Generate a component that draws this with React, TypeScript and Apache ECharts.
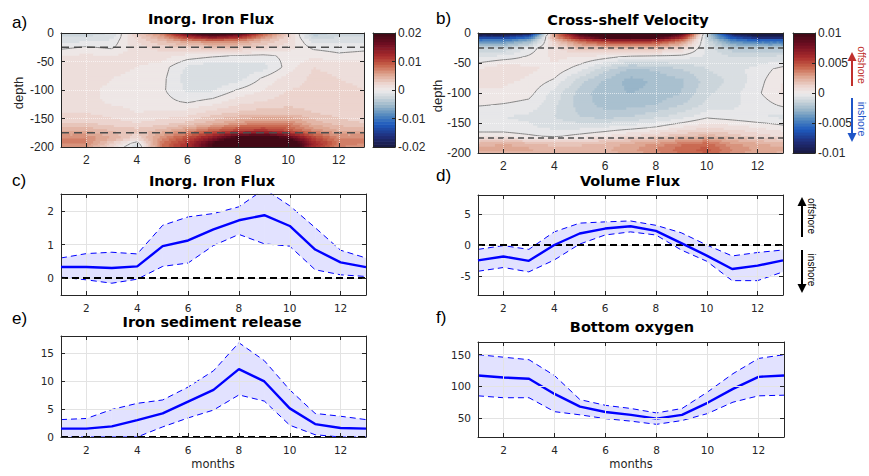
import React, { useEffect, useRef } from 'react';
import * as echarts from 'echarts';

// ---------- data ----------
const months = [1, 2, 3, 4, 5, 6, 7, 8, 9, 10, 11, 12, 13];
const monthTicks = [2, 4, 6, 8, 10, 12];
const depthLevels = [0, -6, -14, -25, -40, -60, -80, -100, -120, -140, -158, -172, -185, -194, -200];

// a) Inorg. Iron Flux field (x 1e-3), rows = depthLevels, columns = months
const ironFluxField = [
  [-2.5, -2.5, -2, 3, 8, 18, 25, 20, 10, 3, -4, -2.5, -2.5],
  [-2, -2, -1.5, 2.5, 6, 13, 17, 14, 7, 2.5, -3, -2, -2],
  [-1.2, -1.2, -0.8, 2, 4, 6, 7, 6.5, 4, 2, -1.5, -1.3, -1.3],
  [-0.3, 0.1, -0.2, 1.5, 2.5, 3.2, 3.5, 3.5, 2.5, 1.5, -0.3, -0.6, -0.4],
  [1, 1.2, 1, 1.5, 1.5, 0.6, 0.2, -0.1, -0.3, 0.3, 0.8, 0.3, 0.5],
  [1.8, 1.8, 1.5, 1, 0.5, -1.2, -1.8, -1.8, -1.5, 0.5, 2, 1.8, 1.5],
  [1.5, 1.5, 1, 0.6, 0.3, -1.5, -1.8, -1.5, 0.2, 1.5, 2.2, 2, 1.8],
  [1.5, 1.2, 0.8, 0.5, 0.2, -1.2, -1.2, 0.1, 1, 2, 2.2, 2.2, 2],
  [1.5, 1.3, 0.8, 0.6, 0.4, -0.2, 0.4, 1.5, 2, 2.5, 2.5, 2.2, 2],
  [2, 2, 1.5, 1, 1.2, 1.5, 2.5, 3.2, 3.6, 3.6, 3, 2.5, 2],
  [3, 3, 2.5, 2, 2.5, 3.2, 4.5, 6, 7, 7, 4.5, 3.5, 3],
  [5, 5, 4, 3.5, 4.5, 6.5, 9, 11, 12, 10, 7, 5, 5],
  [7, 7, 5, 2, 7, 10, 15, 21, 24, 19, 11, 7, 7],
  [7, 7, 3, -1, 8, 12, 19, 27, 30, 24, 13, 8, 7],
  [6, 6, 2, -2, 8, 12, 19, 27, 30, 24, 12, 7, 6],
];

// b) Cross-shelf velocity field (x 1e-3)
const velocityField = [
  [-12, -12, -10, 3, 10, 14, 15, 14, 10, -1.5, -10, -13, -13],
  [-8, -8, -6, 3, 8, 11, 12, 11, 7, -1.5, -7, -9, -9],
  [-4, -4, -2.5, 1.5, 4, 5.5, 6, 5.5, 3.5, -1, -4, -5, -5],
  [-1.5, -1.5, -0.4, 0.8, 1.8, 2, 2, 2, 1.2, -0.6, -1.8, -2, -2],
  [-0.5, -0.3, 0.1, 0.6, 0.5, 0.2, -0.2, -0.3, -0.3, -0.6, -1, -1, -0.8],
  [0.5, 1.0, 0.6, 0.4, -0.3, -1.3, -2.1, -1.9, -1.5, -1.0, -0.7, -0.3, 0.2],
  [0.6, 0.6, 0.4, -0.1, -1.3, -2.1, -2.7, -2.4, -2.1, -1.3, -0.9, -0.2, 0.5],
  [0.4, 0.4, 0.2, -0.7, -1.7, -2.4, -2.5, -2.4, -2.0, -1.1, -0.7, -0.1, 0.6],
  [0.05, -0.05, -0.2, -0.9, -1.7, -2.2, -2.2, -2.0, -1.5, -0.9, -0.6, -0.3, 0.1],
  [-0.5, -0.5, -0.6, -1.0, -1.5, -1.7, -1.5, -1.1, -0.7, -0.1, -0.3, -0.5, -0.6],
  [-0.3, -0.3, -0.4, -0.6, -0.6, -0.4, -0.2, 0.1, 0.6, 1.0, 0.8, 0.5, 0.2],
  [0.3, 0.3, 0.1, -0.1, 0.2, 0.5, 1.0, 1.4, 1.9, 2.3, 1.8, 1.3, 0.9],
  [2.2, 2.6, 2.2, 1.8, 1.9, 2.2, 2.6, 3.1, 3.9, 4.3, 3.1, 2.6, 2.2],
  [2.6, 2.6, 2.6, 2.2, 2.2, 2.4, 2.9, 3.5, 4.3, 4.7, 3.5, 2.9, 2.6],
  [2.4, 2.4, 2.4, 2.0, 2.0, 2.3, 2.6, 3.3, 4.1, 4.5, 3.3, 2.6, 2.4],
];
const FIELD_UNIT = 1e-3;
const ironFluxTicks = [-0.02, -0.01, 0, 0.01, 0.02];
const velocityTicks = [-0.01, -0.005, 0, 0.005, 0.01];
const shelfLayerDepths = [-25, -175];

// c) Inorg. Iron Flux
const ironFluxMean = [0.33, 0.33, 0.3, 0.35, 0.95, 1.12, 1.45, 1.72, 1.87, 1.55, 0.85, 0.47, 0.33];
const ironFluxUpper = [0.6, 0.73, 0.77, 0.72, 1.57, 1.82, 1.92, 2.12, 2.65, 2.15, 1.5, 0.83, 0.6];
const ironFluxLower = [0.03, -0.05, -0.15, -0.03, 0.35, 0.45, 0.97, 1.3, 1.02, 0.95, 0.25, 0.1, 0.05];

// d) Volume Flux
const volFluxMean = [-2.47, -1.84, -2.53, 0.0, 1.84, 2.63, 3.0, 2.26, 0.3, -1.7, -3.84, -3.3, -2.47];
const volFluxUpper = [-0.7, -0.1, -0.7, 2.1, 3.5, 3.7, 3.85, 3.15, 1.95, 0.0, -1.75, -1.2, -0.8];
const volFluxLower = [-4.2, -3.6, -4.3, -2.4, 0.15, 1.6, 2.1, 1.6, -0.8, -2.6, -5.7, -5.7, -4.3];

// e) Iron sediment release
const sedMean = [1.5, 1.5, 1.9, 3.0, 4.2, 6.3, 8.4, 12.1, 9.9, 5.1, 2.3, 1.6, 1.5];
const sedUpper = [3.1, 3.3, 4.9, 6.0, 6.6, 8.9, 11.8, 16.8, 13.6, 8.4, 4.2, 3.7, 3.1];
const sedLower = [0, 0, 0, 0, 1.8, 3.4, 4.8, 7.5, 6.4, 2.1, 0.4, 0, 0];

// f) Bottom oxygen
const oxyMean = [117, 114, 112, 88, 68, 59.5, 55, 49, 55, 74, 96, 115, 117];
const oxyUpper = [150, 146, 142, 117, 79, 70, 65, 58, 65, 91, 120, 144, 150];
const oxyLower = [85, 82, 82, 60, 55, 49, 45, 40, 46, 57, 75, 85, 86];

// ---------- colormap ----------
const STOPS: number[][] = [
  [0.0, 24, 24, 62],
  [0.1, 32, 46, 122],
  [0.2, 30, 90, 190],
  [0.28, 80, 135, 190],
  [0.36, 150, 180, 200],
  [0.44, 205, 214, 220],
  [0.5, 238, 236, 236],
  [0.56, 236, 214, 208],
  [0.64, 222, 165, 145],
  [0.72, 200, 100, 75],
  [0.8, 170, 45, 45],
  [0.9, 115, 15, 35],
  [1.0, 60, 8, 20],
];
function cmap(t: number) {
  for (let i = 0; i < STOPS.length - 1; i++) {
    const a = STOPS[i], b = STOPS[i + 1];
    if (t <= b[0]) {
      const f = (t - a[0]) / (b[0] - a[0]);
      const c = [1, 2, 3].map((k) => Math.round(a[k] + (b[k] - a[k]) * f));
      return `rgb(${c[0]},${c[1]},${c[2]})`;
    }
  }
  return 'rgb(60,8,20)';
}
const NLEV = 40;
const levelColors = Array.from({ length: NLEV }, (_, k) => cmap((k + 0.5) / NLEV));
function colorOf(v: number, cmax: number) {
  const t = 0.5 + v / (2 * cmax);
  let k = Math.floor(t * NLEV);
  if (k < 0) k = 0;
  if (k > NLEV - 1) k = NLEV - 1;
  return levelColors[k];
}

const AX = '#262626';
const FONT_TOP = 'Liberation Sans';
const FONT_BOT = 'DejaVu Sans';

function fieldCells(field: number[][]) {
  const out: number[][] = [];
  for (let j = 0; j < depthLevels.length - 1; j++) {
    for (let i = 0; i < months.length - 1; i++) {
      out.push([
        months[i], depthLevels[j], months[i + 1], depthLevels[j + 1],
        field[j][i] * FIELD_UNIT, field[j][i + 1] * FIELD_UNIT,
        field[j + 1][i] * FIELD_UNIT, field[j + 1][i + 1] * FIELD_UNIT,
      ]);
    }
  }
  return out;
}

function makeFieldRenderer(cmax: number) {
  return (params: any, api: any) => {
    const x0 = api.value(0), y0 = api.value(1), x1 = api.value(2), y1 = api.value(3);
    const v00 = api.value(4), v10 = api.value(5), v01 = api.value(6), v11 = api.value(7);
    const p0 = api.coord([x0, y0]);
    const p1 = api.coord([x1, y1]);
    const W = p1[0] - p0[0], H = p1[1] - p0[1];
    const nx = Math.max(1, Math.round(W / 2.2));
    const ny = Math.max(1, Math.round(H / 2.2));
    const val = (u: number, v: number) =>
      v00 * (1 - u) * (1 - v) + v10 * u * (1 - v) + v01 * (1 - u) * v + v11 * u * v;
    const children: any[] = [];
    for (let cj = 0; cj < ny; cj++) {
      const v = (cj + 0.5) / ny;
      let runStart = 0;
      let runColor = colorOf(val(0.5 / nx, v), cmax);
      for (let ci = 1; ci <= nx; ci++) {
        const col = ci < nx ? colorOf(val((ci + 0.5) / nx, v), cmax) : '';
        if (col !== runColor) {
          children.push({
            type: 'rect',
            shape: { x: p0[0] + (runStart * W) / nx, y: p0[1] + (cj * H) / ny, width: ((ci - runStart) * W) / nx + 0.8, height: H / ny + 0.8 },
            style: { fill: runColor },
          });
          runStart = ci;
          runColor = col;
        }
      }
    }
    const X = (u: number) => p0[0] + (u * W) / nx;
    const Y = (v: number) => p0[1] + (v * H) / ny;
    const node = (ci: number, cj: number) => val(ci / nx, cj / ny);
    for (let cj = 0; cj < ny; cj++) {
      for (let ci = 0; ci < nx; ci++) {
        const a = node(ci, cj), b = node(ci + 1, cj), c = node(ci + 1, cj + 1), d = node(ci, cj + 1);
        const pts: number[][] = [];
        if (a > 0 !== b > 0) { const t = a / (a - b); pts.push([X(ci + t), Y(cj)]); }
        if (b > 0 !== c > 0) { const t = b / (b - c); pts.push([X(ci + 1), Y(cj + t)]); }
        if (c > 0 !== d > 0) { const t = c / (c - d); pts.push([X(ci + 1 - t), Y(cj + 1)]); }
        if (d > 0 !== a > 0) { const t = d / (d - a); pts.push([X(ci), Y(cj + 1 - t)]); }
        for (let k = 0; k + 1 < pts.length; k += 2) {
          children.push({
            type: 'line',
            shape: { x1: pts[k][0], y1: pts[k][1], x2: pts[k + 1][0], y2: pts[k + 1][1] },
            style: { stroke: '#858585', lineWidth: 1 },
          });
        }
      }
    }
    return { type: 'group', children };
  };
}

function makeColorbarRenderer(cmax: number) {
  return (params: any, api: any) => {
    const k = api.value(0);
    const step = (2 * cmax) / NLEV;
    const lo = -cmax + k * step;
    const hi = lo + step;
    const p0 = api.coord([0, hi]);
    const p1 = api.coord([1, lo]);
    return {
      type: 'rect',
      shape: { x: p0[0], y: p0[1], width: p1[0] - p0[0], height: p1[1] - p0[1] + 0.6 },
      style: { fill: levelColors[k] },
    };
  };
}

function bandRenderer(params: any, api: any) {
  const a = api.coord([api.value(0), api.value(1)]);
  const b = api.coord([api.value(0), api.value(2)]);
  const c = api.coord([api.value(3), api.value(5)]);
  const d = api.coord([api.value(3), api.value(4)]);
  return { type: 'polygon', shape: { points: [a, b, c, d] }, style: { fill: 'rgba(0,0,255,0.115)' } };
}

export default function App() {
  const ref = useRef<HTMLDivElement>(null);
  useEffect(() => {
    document.body.style.margin = '0';
    if (!ref.current) return;
    const chart = echarts.init(ref.current, undefined, { renderer: 'svg' });

    const grids: any[] = [
      { left: 61, top: 33, width: 303, height: 114 }, // a
      { left: 478, top: 33, width: 305, height: 120 }, // b
      { left: 373, top: 33, width: 22, height: 114 }, // colorbar a
      { left: 793, top: 33, width: 22, height: 120 }, // colorbar b
      { left: 61, top: 194, width: 305, height: 101 }, // c
      { left: 478, top: 195, width: 305, height: 100 }, // d
      { left: 61, top: 336, width: 305, height: 101 }, // e
      { left: 478, top: 342, width: 306, height: 95 }, // f
    ];
    const xAxes: any[] = [];
    const yAxes: any[] = [];

    const lineAx = { show: true, onZero: false, lineStyle: { color: AX, width: 1 } };

    function addPanel(gridIndex: number, yMin: number, yMax: number, yTicks: number[], font: string, fontSize: number, gridLines: boolean) {
      const xi = xAxes.length;
      const yi = yAxes.length;
      const lbl = { fontFamily: font, fontSize, color: AX, margin: 7 };
      xAxes.push({
        type: 'value', gridIndex, position: 'bottom', min: 1, max: 13, z: 5,
        axisLine: lineAx,
        axisTick: { show: true, inside: true, length: 4, customValues: monthTicks, lineStyle: { color: AX } },
        axisLabel: { show: true, customValues: monthTicks, ...lbl },
        splitLine: { show: gridLines, lineStyle: { color: '#e3e3e3', width: 1 } },
      });
      xAxes.push({
        type: 'value', gridIndex, position: 'top', min: 1, max: 13, z: 5,
        axisLine: lineAx,
        axisTick: { show: true, inside: true, length: 4, customValues: monthTicks, lineStyle: { color: AX } },
        axisLabel: { show: false },
        splitLine: { show: false },
      });
      yAxes.push({
        type: 'value', gridIndex, position: 'left', min: yMin, max: yMax, z: 5,
        axisLine: lineAx,
        axisTick: { show: true, inside: true, length: 4, customValues: yTicks, lineStyle: { color: AX } },
        axisLabel: { show: true, customValues: yTicks, ...lbl },
        splitLine: { show: gridLines, lineStyle: { color: '#e3e3e3', width: 1 } },
      });
      yAxes.push({
        type: 'value', gridIndex, position: 'right', min: yMin, max: yMax, z: 5,
        axisLine: lineAx,
        axisTick: { show: true, inside: true, length: 4, customValues: yTicks, lineStyle: { color: AX } },
        axisLabel: { show: false },
        splitLine: { show: false },
      });
      return { x: xi, y: yi };
    }

    function addColorbar(gridIndex: number, cmax: number, ticks: number[]) {
      const xi = xAxes.length;
      const yi = yAxes.length;
      xAxes.push({ type: 'value', gridIndex, position: 'bottom', min: 0, max: 1, z: 5, axisLine: lineAx, axisTick: { show: false }, axisLabel: { show: false }, splitLine: { show: false } });
      xAxes.push({ type: 'value', gridIndex, position: 'top', min: 0, max: 1, z: 5, axisLine: lineAx, axisTick: { show: false }, axisLabel: { show: false }, splitLine: { show: false } });
      yAxes.push({
        type: 'value', gridIndex, position: 'right', min: -cmax, max: cmax, z: 5,
        axisLine: lineAx,
        axisTick: { show: true, inside: true, length: 3, customValues: ticks, lineStyle: { color: AX } },
        axisLabel: { show: true, customValues: ticks, fontFamily: FONT_TOP, fontSize: 12, color: AX, margin: 3 },
        splitLine: { show: false },
      });
      yAxes.push({ type: 'value', gridIndex, position: 'left', min: -cmax, max: cmax, z: 5, axisLine: lineAx, axisTick: { show: false }, axisLabel: { show: false }, splitLine: { show: false } });
      return { x: xi, y: yi };
    }

    const depthTicks = [-200, -150, -100, -50, 0];
    const pA = addPanel(0, -200, 0, depthTicks, FONT_TOP, 12, false);
    const pB = addPanel(1, -200, 0, depthTicks, FONT_TOP, 12, false);
    const cbA = addColorbar(2, 0.02, ironFluxTicks);
    const cbB = addColorbar(3, 0.01, velocityTicks);
    const pC = addPanel(4, -0.5, 2.5, [0, 1, 2], FONT_BOT, 10.5, true);
    const pD = addPanel(5, -8, 8, [-5, 0, 5], FONT_BOT, 10.5, true);
    const pE = addPanel(6, 0, 18, [0, 5, 10, 15], FONT_BOT, 10.5, true);
    const pF = addPanel(7, 20, 170, [50, 100, 150], FONT_BOT, 10.5, true);

    const series: any[] = [];

    function fieldPanel(p: { x: number; y: number }, field: number[][], cmax: number, dash: number[]) {
      series.push({
        type: 'custom', xAxisIndex: p.x, yAxisIndex: p.y, silent: true, clip: true,
        data: fieldCells(field), encode: { x: [0, 2], y: [1, 3] },
        renderItem: makeFieldRenderer(cmax),
      });
      shelfLayerDepths.forEach((d, idx) => {
        const s: any = {
          type: 'line', xAxisIndex: p.x, yAxisIndex: p.y, silent: true, symbol: 'none', z: 4,
          data: [[1, d], [13, d]],
          lineStyle: { color: '#4d4d4d', width: 1.5, type: dash },
        };
        if (idx === 0) {
          s.markLine = {
            silent: true, symbol: 'none', label: { show: false }, animation: false,
            lineStyle: { color: 'rgba(255,255,255,0.6)', type: 'dotted', width: 1 },
            data: [...monthTicks.map((m) => ({ xAxis: m })), ...[-150, -100, -50].map((v) => ({ yAxis: v }))],
          };
        }
        series.push(s);
      });
    }
    fieldPanel(pA, ironFluxField, 0.02, [8, 5]);
    fieldPanel(pB, velocityField, 0.01, [6, 4]);

    function colorbar(p: { x: number; y: number }, cmax: number) {
      series.push({
        type: 'custom', xAxisIndex: p.x, yAxisIndex: p.y, silent: true,
        data: levelColors.map((_, k) => [k]),
        renderItem: makeColorbarRenderer(cmax),
      });
    }
    colorbar(cbA, 0.02);
    colorbar(cbB, 0.01);

    function bandPanel(p: { x: number; y: number }, mean: number[], upper: number[], lower: number[], zeroLine: boolean) {
      const pts = (arr: number[]) => months.map((m, i) => [m, arr[i]]);
      series.push({
        type: 'custom', xAxisIndex: p.x, yAxisIndex: p.y, silent: true, clip: true,
        data: months.slice(0, -1).map((m, i) => [m, lower[i], upper[i], months[i + 1], lower[i + 1], upper[i + 1]]),
        encode: { x: [0, 3], y: [1, 2, 4, 5] },
        renderItem: bandRenderer,
      });
      [upper, lower].forEach((arr) =>
        series.push({
          type: 'line', xAxisIndex: p.x, yAxisIndex: p.y, silent: true, symbol: 'none',
          data: pts(arr), lineStyle: { color: '#0000ff', width: 1, type: [6, 4] },
        })
      );
      const meanSeries: any = {
        type: 'line', xAxisIndex: p.x, yAxisIndex: p.y, silent: true, symbol: 'none',
        data: pts(mean), lineStyle: { color: '#0000ff', width: 2.4 },
      };
      if (zeroLine) {
        meanSeries.clip = false;
        meanSeries.z = 6;
        meanSeries.markLine = {
          silent: true, symbol: 'none', label: { show: false }, animation: false,
          lineStyle: { color: '#000000', width: 2.2, type: [7, 4] },
          data: [{ yAxis: 0 }],
        };
      }
      series.push(meanSeries);
    }
    bandPanel(pC, ironFluxMean, ironFluxUpper, ironFluxLower, true);
    bandPanel(pD, volFluxMean, volFluxUpper, volFluxLower, true);
    bandPanel(pE, sedMean, sedUpper, sedLower, true);
    bandPanel(pF, oxyMean, oxyUpper, oxyLower, false);

    const txt = (x: number, y: number, text: string, font: string, fill = '#000', align = 'center', rotation = 0) => ({
      type: 'text', x, y, rotation, silent: true, z: 100,
      style: { text, font, fill, align, verticalAlign: 'middle', textAlign: align, textVerticalAlign: 'middle' },
    });
    const titleFont = `bold 14.5px "${FONT_BOT}"`;
    const letterFont = `17px "${FONT_TOP}"`;
    const arrow = (x: number, yTail: number, yTip: number, color: string) => {
      const dir = yTip < yTail ? -1 : 1;
      const base = yTip - dir * 9;
      return [
        { type: 'line', silent: true, z: 100, shape: { x1: x, y1: yTail, x2: x, y2: base }, style: { stroke: color, lineWidth: 2 } },
        { type: 'polygon', silent: true, z: 100, shape: { points: [[x - 4.5, base], [x + 4.5, base], [x, yTip]] }, style: { fill: color } },
      ];
    };

    const graphics: any[] = [
      txt(12, 22, 'a)', letterFont, '#000', 'left'),
      txt(436, 18, 'b)', letterFont, '#000', 'left'),
      txt(12, 180, 'c)', letterFont, '#000', 'left'),
      txt(436, 175, 'd)', letterFont, '#000', 'left'),
      txt(12, 318, 'e)', letterFont, '#000', 'left'),
      txt(436, 317, 'f)', letterFont, '#000', 'left'),
      txt(211, 19, 'Inorg. Iron Flux', titleFont),
      txt(628, 20, 'Cross-shelf Velocity', titleFont),
      txt(212, 181, 'Inorg. Iron Flux', titleFont),
      txt(630, 181, 'Volume Flux', titleFont),
      txt(212, 322, 'Iron sediment release', titleFont),
      txt(632, 327, 'Bottom oxygen', titleFont),
      txt(18, 93, 'depth', `13px "${FONT_TOP}"`, AX, 'center', Math.PI / 2),
      txt(437, 96, 'depth', `13px "${FONT_TOP}"`, AX, 'center', Math.PI / 2),
      txt(213, 464, 'months', `11.5px "${FONT_BOT}"`, AX),
      txt(631, 464, 'months', `11.5px "${FONT_BOT}"`, AX),
      ...arrow(852, 86, 52, '#c0302c'),
      ...arrow(852, 98, 142, '#1f55c8'),
      txt(862, 65, 'offshore', `10.5px "${FONT_TOP}"`, '#c0302c', 'center', -Math.PI / 2),
      txt(862, 119, 'inshore', `10.5px "${FONT_TOP}"`, '#1f55c8', 'center', -Math.PI / 2),
      ...arrow(802, 237, 197, '#000'),
      ...arrow(802, 250, 293, '#000'),
      txt(811, 216, 'offshore', `10px "${FONT_TOP}"`, '#000', 'center', -Math.PI / 2),
      txt(811, 270, 'inshore', `10px "${FONT_TOP}"`, '#000', 'center', -Math.PI / 2),
    ];

    chart.setOption({
      animation: false,
      backgroundColor: '#ffffff',
      grid: grids,
      xAxis: xAxes,
      yAxis: yAxes,
      series,
      graphic: { elements: graphics },
    });
    return () => chart.dispose();
  }, []);
  return <div ref={ref} style={{ width: 869, height: 476 }} />;
}
